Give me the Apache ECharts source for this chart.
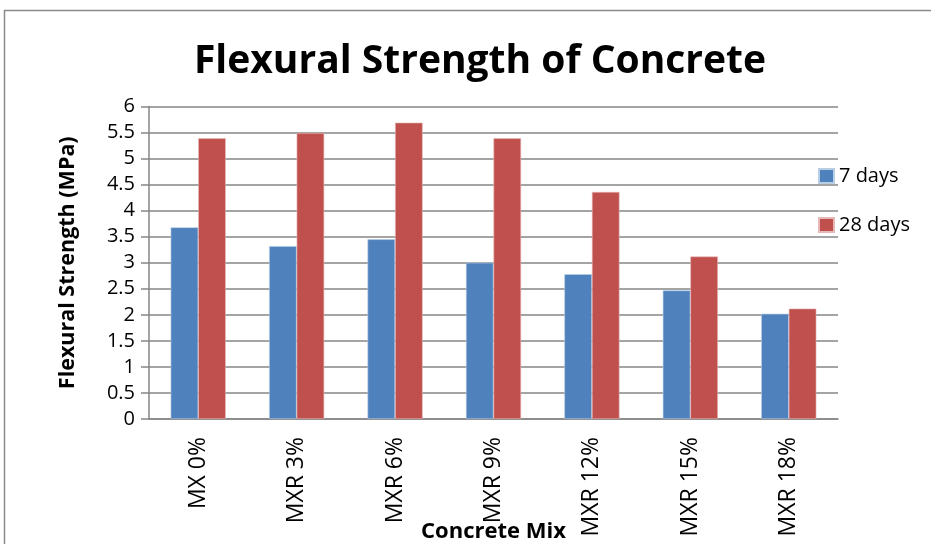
<!DOCTYPE html>
<html><head><meta charset="utf-8">
<script src="https://cdn.jsdelivr.net/npm/echarts@6/dist/echarts.min.js"></script>
<style>html,body{margin:0;padding:0;background:#fff}#c{width:931px;height:544px;position:relative}</style>
</head><body><div id="c"></div>
<script>
var categories = ['MX 0%', 'MXR 3%', 'MXR 6%', 'MXR 9%', 'MXR 12%', 'MXR 15%', 'MXR 18%'];
var days7 = [3.68, 3.32, 3.45, 3.00, 2.78, 2.47, 2.02];
var days28 = [5.39, 5.49, 5.69, 5.39, 4.36, 3.12, 2.12];
var yTicks = [0, 0.5, 1, 1.5, 2, 2.5, 3, 3.5, 4, 4.5, 5, 5.5, 6];
var FONT = 'Open Sans';
var chart = echarts.init(document.getElementById('c'), null, {renderer: 'canvas'});
chart.setOption({
  backgroundColor: '#fff',
  animation: false,
  graphic: [{type: 'rect', shape: {x: 4.5, y: 10.5, width: 940, height: 560}, style: {fill: 'none', stroke: '#8a8a8a', lineWidth: 1.5}, silent: true}],
  title: {text: 'Flexural Strength of Concrete', left: 475, textAlign: 'center', top: 37,
    textStyle: {fontFamily: FONT, fontWeight: 'bold', fontSize: 39, color: '#000'}},
  legend: {orient: 'vertical', left: 818, top: 166, padding: 0, itemWidth: 15, itemHeight: 14, itemGap: 29,
    icon: 'rect', textStyle: {fontFamily: FONT, fontSize: 20, color: '#000'},
    data: ['7 days', '28 days']},
  grid: {left: 149, right: 93, top: 106.5, bottom: 125, containLabel: false, outerBoundsMode: 'none'},
  xAxis: {type: 'category', data: categories, name: 'Concrete Mix', nameLocation: 'middle', nameGap: 102, nameMoveOverlap: false,
    nameTextStyle: {fontFamily: FONT, fontWeight: 'bold', fontSize: 22, color: '#000'},
    axisLine: {lineStyle: {color: '#868686', width: 1.5}},
    axisTick: {show: false},
    axisLabel: {rotate: 90, margin: 18, fontFamily: FONT, fontSize: 23, color: '#000'}},
  yAxis: {type: 'value', min: 0, max: 6, interval: 0.5, name: 'Flexural Strength (MPa)', nameLocation: 'middle', nameGap: 70, nameMoveOverlap: false,
    nameTextStyle: {fontFamily: FONT, fontWeight: 'bold', fontSize: 21.5, color: '#000'},
    axisLine: {show: true, lineStyle: {color: '#868686', width: 1.5}},
    axisTick: {show: true, length: 8, lineStyle: {color: '#868686', width: 1.5}},
    splitLine: {lineStyle: {color: '#868686', width: 1.5}},
    axisLabel: {margin: 14, fontFamily: FONT, fontSize: 20, color: '#000',
      formatter: function (v) { return yTicks.indexOf(v) >= 0 ? String(v) : ''; }}},
  series: [
    {name: '7 days', type: 'bar', data: days7, barGap: '0%', barCategoryGap: '44%',
      itemStyle: {color: '#4F81BD', borderColor: '#b9cde5', borderWidth: 0.6}},
    {name: '28 days', type: 'bar', data: days28, barGap: '0%', barCategoryGap: '44%',
      itemStyle: {color: '#C0504D', borderColor: '#e6b9b8', borderWidth: 0.6}}
  ]
});
</script></body></html>
